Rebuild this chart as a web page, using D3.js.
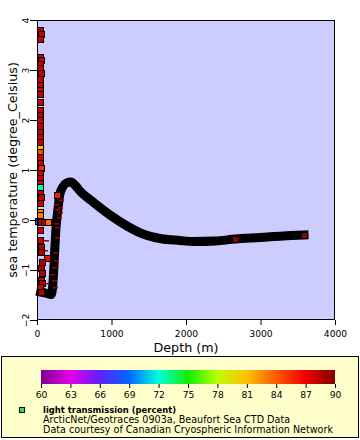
<!DOCTYPE html>
<html><head><meta charset="utf-8">
<script src="https://cdn.jsdelivr.net/npm/d3@7"></script>
<style>body{margin:0;background:#fff}svg{display:block;font-family:"DejaVu Sans",sans-serif}</style>
</head><body>
<svg id="c" width="360" height="440"></svg>
<script>
// ---- data ----
const profileDepth = [50, 110, 160, 190, 212, 228, 242, 258, 280, 305, 345, 395, 456, 520, 577, 752, 980, 1208, 1423, 1651, 1919, 2100, 2400, 2657, 3000, 3300, 3584];
const profileTemp  = [-1.44, -1.46, -1.48, -1.49, -1.3, -0.9, -0.5, -0.1, 0.2, 0.5, 0.66, 0.74, 0.76, 0.68, 0.58, 0.36, 0.10, -0.12, -0.28, -0.37, -0.41, -0.43, -0.42, -0.38, -0.35, -0.32, -0.30];

const surfDepth = [45, 55, 45, 40, 50, 45, 40, 50, 45, 45, 40, 45, 45, 40, 45, 45, 40, 45, 40, 45, 45, 40, 45, 40, 50, 45, 40, 45, 40, 45, 50, 45, 40, 45, 10, 50, 100, 145, 45, 45, 50, 60, 135, 65, 50, 70, 50, 70, 45, 60, 268];
const surfTemp  = [3.80, 3.72, 3.62, 3.26, 3.20, 3.12, 3.04, 2.94, 2.82, 2.70, 2.60, 2.52, 2.36, 2.20, 2.10, 2.00, 1.88, 1.76, 1.66, 1.56, 1.44, 1.36, 1.26, 1.14, 1.04, 0.94, 0.84, 0.74, 0.66, 0.54, 0.46, 0.34, 0.16, 0.10, -0.02, -0.04, -0.04, -0.04, -0.20, -0.40, -0.54, -0.64, -0.76, -0.84, -0.96, -1.06, -1.20, -1.26, -1.34, -1.44, 0.50];
const surfTrans = [88, 88, 88, 88, 88, 88, 88, 88, 88, 88, 88, 88, 88, 88, 88.5, 88, 88, 88, 88, 88, 81, 84.5, 88, 88, 85.5, 88, 88, 88, 72.5, 88, 88, 88, 82.5, 83, 69.5, 88, 88.8, 83.5, 88, 88, 88.5, 88.5, 86.5, 88.5, 88.5, 88.5, 88, 88.5, 88, 88.5, 86];

// partly covered markers inside the dense band (only a sliver visible)
const hiddenDepth = [262, 300, 260, 275, 290, 255, 262, 270, 242, 250, 232, 208, 225, 240, 318, 312, 305, 121, 107, 121];
const hiddenTemp  = [0.48, 0.44, 0.32, 0.22, 0.06, -0.06, -0.14, -0.34, -0.64, -0.80, -0.94, -1.08, -1.20, -1.34, 0.40, 0.26, 0.16, -0.40, -0.60, -1.26];
const hiddenTrans = [89, 89, 89, 89, 89, 89, 89, 89, 89, 89, 89, 89, 89, 89, 89, 89, 89, 89, 89, 89];

const deepDepth = [2657, 3584];
const deepTemp  = [-0.38, -0.30];
const deepTrans = [89.5, 89.5];

const xMajor = [0, 1000, 2000, 3000, 4000];
const yMajor = [-2, -1, 0, 1, 2, 3, 4];
const cbTicks = [60, 63, 66, 69, 72, 75, 78, 81, 84, 87, 90];
const paletteColors = ["#7f0090", "#e400e6", "#6020ff", "#0068ff", "#00ffdd", "#11ee00", "#bbff00", "#ffc000", "#ff5a00", "#f00000", "#800000"];

const xLabel = "Depth (m)";
const yLabel = "sea temperature (degree_Celsius)";
const legendTitle = "light transmission (percent)";
const legendLines = ["ArcticNet/Geotraces 0903a, Beaufort Sea CTD Data", "Data courtesy of Canadian Cryospheric Information Network"];

// ---- drawing ----
const svg = d3.select("#c");
const L = 37, R = 335, T = 20, B = 320;
const x = d3.scaleLinear([0, 4000], [L, R]);
const y = d3.scaleLinear([-2, 4], [B, T]);
const color = d3.scaleLinear(cbTicks, paletteColors).clamp(true);

svg.append("rect").attr("x", 0).attr("y", 0).attr("width", 360).attr("height", 440).attr("fill", "#fff");
svg.append("rect").attr("x", L).attr("y", T).attr("width", R - L).attr("height", B - T).attr("fill", "#ccccff");

// band (dense profile)
const line = d3.line().x((d, i) => x(profileDepth[i])).y((d, i) => y(profileTemp[i])).curve(d3.curveMonotoneX);
svg.append("path").attr("d", line(profileDepth)).attr("fill", "none").attr("stroke", "#000")
  .attr("stroke-width", 9).attr("stroke-linecap", "square").attr("stroke-linejoin", "round");

// slivers of covered markers
svg.append("g").selectAll("rect").data(hiddenDepth).join("rect")
  .attr("x", (d) => Math.round(x(d)) - 2)
  .attr("y", (d, i) => Math.round(y(hiddenTemp[i])))
  .attr("width", 5).attr("height", 1.5)
  .attr("fill", (d, i) => color(hiddenTrans[i]));

function squares(dep, tem, tr) {
  svg.append("g").selectAll("rect").data(dep).join("rect")
    .attr("x", (d) => Math.round(x(d)) - 3)
    .attr("y", (d, i) => Math.round(y(tem[i])) - 3)
    .attr("width", 6).attr("height", 6)
    .attr("fill", (d, i) => color(tr[i]))
    .attr("stroke", "#000").attr("stroke-width", 1)
    .attr("shape-rendering", "crispEdges");
}
squares(surfDepth, surfTemp, surfTrans);
squares(deepDepth, deepTemp, deepTrans);

// frame
svg.append("rect").attr("x", L + 0.5).attr("y", T + 0.5).attr("width", R - L - 1).attr("height", B - T - 1)
  .attr("fill", "none").attr("stroke", "#000").attr("stroke-width", 1).attr("shape-rendering", "crispEdges");

// x axis
const gx = svg.append("g").attr("transform", `translate(0,${B})`);
gx.call(d3.axisBottom(x).tickValues(d3.range(0, 4001, 200)).tickSize(3).tickFormat(""));
gx.call(d3.axisBottom(x).tickValues(xMajor).tickSize(5).tickFormat(d3.format("d")));
gx.selectAll(".domain").remove();
gx.selectAll("text").attr("y", 17).attr("dy", 0).attr("font-size", 9.2).attr("font-family", "DejaVu Sans").attr("fill", "#000");
gx.selectAll("line").attr("stroke", "#000");

// y axis
const gy = svg.append("g").attr("transform", `translate(${L},0)`);
gy.call(d3.axisLeft(y).tickValues(d3.range(-2, 4.001, 0.2)).tickSize(4).tickFormat(""));
gy.call(d3.axisLeft(y).tickValues(yMajor).tickSize(7).tickFormat(d3.format("d")));
gy.selectAll(".domain").remove();
gy.selectAll("text").attr("transform", "rotate(-90)").attr("x", 0).attr("y", -8).attr("dy", 0)
  .attr("text-anchor", "middle").attr("font-size", 9.2).attr("font-family", "DejaVu Sans").attr("fill", "#000");
gy.selectAll("line").attr("stroke", "#000");

// axis titles
svg.append("text").attr("x", (L + R) / 2).attr("y", 352).attr("text-anchor", "middle")
  .attr("font-size", 12.7).text(xLabel);
svg.append("text").attr("transform", `translate(17,${(T + B) / 2}) rotate(-90)`).attr("text-anchor", "middle")
  .attr("font-size", 12.7).text(yLabel);

// legend box
svg.append("rect").attr("x", 1.5).attr("y", 356.5).attr("width", 357).attr("height", 81)
  .attr("fill", "#ffffcc").attr("stroke", "#000").attr("stroke-width", 1);

// colorbar
const cb = d3.scaleLinear([60, 90], [41, 335]);
const grad = svg.append("defs").append("linearGradient").attr("id", "pal");
cbTicks.forEach((v, i) => grad.append("stop").attr("offset", (v - 60) / 30).attr("stop-color", paletteColors[i]));
svg.append("rect").attr("x", 41).attr("y", 370).attr("width", 294).attr("height", 14).attr("fill", "url(#pal)");
const gc = svg.append("g").attr("transform", "translate(0,384)");
gc.call(d3.axisBottom(cb).tickValues(cbTicks).tickSize(4).tickFormat(d3.format("d")));
gc.selectAll(".domain").remove();
gc.selectAll("line").attr("stroke", "#000");
gc.selectAll("text").attr("y", 14).attr("dy", 0).attr("font-size", 9.2).attr("font-family", "DejaVu Sans").attr("fill", "#000");

// legend entry
svg.append("rect").attr("x", 19.5).attr("y", 407.5).attr("width", 5).attr("height", 5)
  .attr("fill", "#22ee22").attr("stroke", "#000").attr("stroke-width", 1);
svg.append("text").attr("x", 43).attr("y", 413).attr("font-size", 9.4).attr("font-weight", "bold")
  .attr("textLength", 133).attr("lengthAdjust", "spacingAndGlyphs").text(legendTitle);
legendLines.forEach((t, i) => {
  svg.append("text").attr("x", 43).attr("y", 423 + i * 10).attr("font-size", 9.6).text(t);
});
</script>
</body></html>
